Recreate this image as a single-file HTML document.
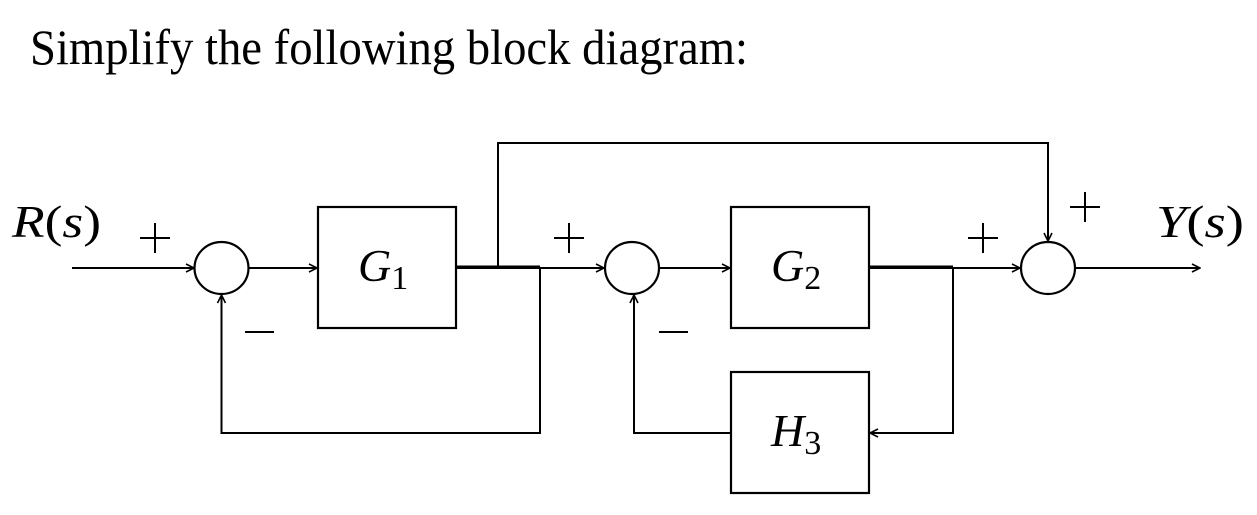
<!DOCTYPE html>
<html><head><meta charset="utf-8"><style>
html,body{margin:0;padding:0;background:#fff;}
svg{display:block;}
text{font-family:"Liberation Serif",serif;fill:#000;}
</style></head><body>
<svg width="1257" height="515" viewBox="0 0 1257 515" xmlns="http://www.w3.org/2000/svg">
<defs>
<marker id="a" markerWidth="10" markerHeight="10" refX="9" refY="5" orient="auto" markerUnits="userSpaceOnUse">
<path d="M1,1 L9,5 L1,9" fill="none" stroke="#000" stroke-width="1.6"/>
</marker>
</defs>
<text x="30" y="64" font-size="50" textLength="718" lengthAdjust="spacingAndGlyphs">Simplify the following block diagram:</text>

<g stroke="#000" stroke-width="2.2" fill="none">
<rect x="318" y="207" width="138" height="121"/>
<rect x="731" y="207" width="138" height="121"/>
<rect x="731" y="372" width="138" height="121"/>
<ellipse cx="221.5" cy="268" rx="27" ry="26"/>
<ellipse cx="632" cy="268" rx="27" ry="26"/>
<ellipse cx="1048" cy="268" rx="27" ry="26"/>
</g>
<g stroke="#000" stroke-width="2" fill="none">
<line x1="72" y1="268" x2="194" y2="268" marker-end="url(#a)"/>
<line x1="249" y1="268" x2="317" y2="268" marker-end="url(#a)"/>
<line x1="456" y1="268" x2="604" y2="268" marker-end="url(#a)"/>
<line x1="456" y1="267" x2="540" y2="267" stroke-width="3"/>
<polyline points="498,268 498,143 1048,143 1048,241" marker-end="url(#a)"/>
<polyline points="540,268 540,433 221.5,433 221.5,295" marker-end="url(#a)"/>
<line x1="659" y1="268" x2="730" y2="268" marker-end="url(#a)"/>
<line x1="869" y1="268" x2="1020" y2="268" marker-end="url(#a)"/>
<line x1="869" y1="267" x2="953" y2="267" stroke-width="3"/>
<polyline points="953,268 953,433 870,433" marker-end="url(#a)"/>
<polyline points="731,433 634,433 634,295" marker-end="url(#a)"/>
<line x1="1075" y1="268" x2="1200" y2="268" marker-end="url(#a)"/>
</g>

<g font-size="46" font-style="italic">
<text x="12" y="237" textLength="89" lengthAdjust="spacingAndGlyphs">R<tspan font-style="normal">(</tspan>s<tspan font-style="normal">)</tspan></text>
<text x="1156" y="237" textLength="88" lengthAdjust="spacingAndGlyphs">Y<tspan font-style="normal">(</tspan>s<tspan font-style="normal">)</tspan></text>
<text x="358" y="281">G<tspan font-style="normal" font-size="34" dy="8">1</tspan></text>
<text x="771" y="281">G<tspan font-style="normal" font-size="34" dy="8">2</tspan></text>
<text x="771" y="446">H<tspan font-style="normal" font-size="34" dy="8">3</tspan></text>
</g>
<g stroke="#000" stroke-width="2">
<line x1="140" y1="238" x2="170" y2="238"/><line x1="155" y1="223" x2="155" y2="253"/>
<line x1="554" y1="238" x2="584" y2="238"/><line x1="569" y1="223" x2="569" y2="253"/>
<line x1="968" y1="238" x2="998" y2="238"/><line x1="983" y1="223" x2="983" y2="253"/>
<line x1="1070" y1="207" x2="1100" y2="207"/><line x1="1085" y1="192" x2="1085" y2="222"/>
<line x1="245" y1="332" x2="274" y2="332"/>
<line x1="659" y1="332" x2="688" y2="332"/>
</g>
</svg>
</body></html>
